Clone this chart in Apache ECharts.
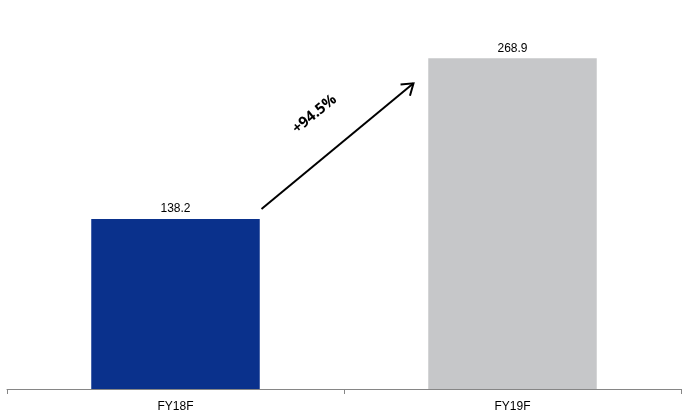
<!DOCTYPE html>
<html>
<head>
<meta charset="utf-8">
<script src="https://cdn.jsdelivr.net/npm/echarts@6/dist/echarts.min.js"></script>
<style>html,body{margin:0;padding:0;background:#fff}#c{width:684px;height:414px}</style>
</head>
<body>
<div id="c"></div>
<script>
var categories = ['FY18F', 'FY19F'];
var values = [138.2, 268.9];
var barColors = ['#0a318c', '#c6c7c9'];
var growthLabel = '+94.5%';

var chart = echarts.init(document.getElementById('c'), null, {renderer: 'canvas'});
var option = {
  animation: false,
  grid: {left: 7, right: 3, top: 20, bottom: 25, containLabel: false},
  xAxis: {
    type: 'category',
    data: categories,
    axisLine: {lineStyle: {color: '#868686', width: 1}},
    axisTick: {show: true, length: 5, lineStyle: {color: '#868686'}},
    axisLabel: {color: '#000', fontFamily: 'Liberation Sans', fontSize: 12, margin: 12}
  },
  yAxis: {
    type: 'value', min: 0, max: 300, show: false,
    splitLine: {show: false}
  },
  series: [{
    type: 'bar',
    barWidth: '50%',
    data: values.map(function (v, i) { return {value: v, itemStyle: {color: barColors[i]}}; }),
    label: {
      show: true, position: 'top', distance: 4,
      color: '#000', fontFamily: 'Liberation Sans', fontSize: 12,
      formatter: function (p) { return p.value.toFixed(1); }
    }
  }]
};
chart.setOption(option);

// Annotation arrow from near top-right of first bar toward second bar top
var p0 = chart.convertToPixel({seriesIndex: 0}, [0, values[0]]);
var p1 = chart.convertToPixel({seriesIndex: 0}, [1, values[1]]);
var x1 = p0[0] + 86, y1 = p0[1] - 10;
var x2 = p1[0] - 99, y2 = p1[1] + 25;
var ang = Math.atan2(y2 - y1, x2 - x1);
var hl = 13, ha = Math.PI / 5.2;
var hx1 = x2 - hl * Math.cos(ang - ha), hy1 = y2 - hl * Math.sin(ang - ha);
var hx2 = x2 - hl * Math.cos(ang + ha), hy2 = y2 - hl * Math.sin(ang + ha);
var mx = (x1 + x2) / 2, my = (y1 + y2) / 2;
chart.setOption({
  graphic: [
    {type: 'line', shape: {x1: x1, y1: y1, x2: x2, y2: y2}, style: {stroke: '#000', lineWidth: 2}},
    {type: 'polyline', shape: {points: [[hx1, hy1], [x2, y2], [hx2, hy2]]}, style: {stroke: '#000', lineWidth: 2, fill: null}},
    {type: 'text', x: mx - 23, y: my - 32, rotation: -ang,
     style: {text: growthLabel, fill: '#000', font: 'bold 15px "Open Sans"', align: 'center', verticalAlign: 'middle'}}
  ]
});
</script>
</body>
</html>
